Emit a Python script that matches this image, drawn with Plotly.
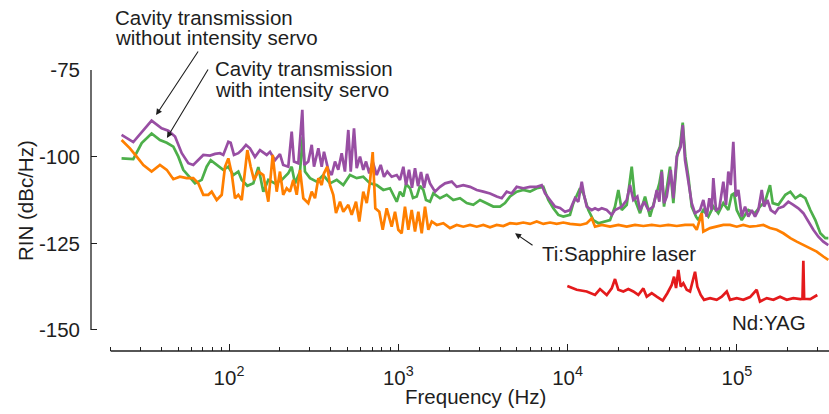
import math
import plotly.graph_objects as go

# ---- data (frequency in Hz, RIN in dBc/Hz) ----
no_servo = [
    (23.2, -93.7), (27.2, -95.8), (34.9, -89.6), (40.0, -91.8), (43.8, -92.5), (48.0, -94.2),
    (52.6, -99.0), (57.5, -101.9), (61.5, -102.4), (65.9, -101.0), (70.5, -99.5), (77.2, -99.7),
    (82.7, -99.2), (88.5, -99.0), (92.5, -99.5), (99.1, -95.7), (102.3, -96.0), (107, -99.5),
    (113.5, -99.0), (118.9, -98.1), (126, -96.6), (133, -97.6), (142.4, -100.1), (152.4, -98.1),
    (167, -99.5), (174.7, -98.6), (187, -101.0), (200, -99.3), (209, -102.4), (224, -102.9),
    (234.6, -92.8), (242, -101.4), (256.7, -101.9), (271, -86.5), (278.5, -102.4), (294, -101.4),
    (308, -96.6), (317.8, -102.9), (337, -97.6), (352.8, -102.9), (364, -98.6), (386, -103.8),
    (404, -105.3), (422.7, -101.4), (442, -103.8), (463, -99.0), (484, -104.3), (506.6, -92.3),
    (523.6, -104.3), (547.5, -91.8), (568, -103.3), (594, -100.0), (621, -103.8), (644.8, -101.4),
    (674, -104.8), (706, -101.4), (745.6, -105.3), (787, -102.4), (823, -105.8), (861, -104.3),
    (914, -105.8), (979, -105.3), (1023, -106.7), (1071, -102.9), (1111, -108.2), (1157, -103.8),
    (1205, -109.0), (1255, -103.3), (1308, -108.5), (1362, -104.4), (1419, -109.0), (1478, -105.0),
    (1539, -107.7), (1648, -110.1), (1764, -108.7), (1888, -107.7), (2068, -107.2), (2213, -108.7),
    (2421, -108.2), (2653, -108.7), (2906, -109.6), (3178, -110.1), (3482, -110.6), (3813, -111.5),
    (4082, -112.0), (4369, -110.1), (4677, -110.6), (5005, -108.7), (5474, -109.1), (5998, -108.7),
    (6570, -108.7), (7033, -108.2), (7356, -110.6), (7873, -112.5), (8428, -114.4), (9022, -114.8),
    (9654, -115.9), (10330, -115.4), (11060, -112.0), (11570, -113.0), (12120, -107.2), (12500, -111.0),
    (12970, -114.4), (13890, -115.4), (14520, -114.9), (15190, -115.4), (15910, -114.9), (17030, -115.4),
    (18220, -116.8), (19060, -115.4), (20880, -114.4), (22350, -112.5), (23370, -108.2), (24440, -112.5),
    (25810, -111.5), (26780, -115.4), (28280, -113.0), (29990, -115.4), (32090, -114.4), (33610, -109.6),
    (34830, -113.0), (35970, -104.3), (37120, -113.4), (38510, -111.5), (40660, -103.8), (42130, -112.0),
    (44120, -100.0), (46580, -97.1), (47860, -90.9), (49380, -101.0), (51660, -107.7), (54100, -113.4),
    (56580, -116.3), (60560, -115.4), (63340, -112.5), (66340, -117.3), (68730, -112.0), (71010, -115.4),
    (72580, -106.2), (75280, -115.4), (78730, -114.9), (83130, -107.2), (86250, -113.9), (89000, -104.3),
    (91950, -108.2), (95250, -95.7), (98420, -111.5), (102000, -109.6), (106800, -117.3), (111700, -114.4),
    (116800, -117.3), (122400, -115.4), (128000, -117.3), (133900, -115.4), (140200, -109.6), (144700, -114.4),
    (151300, -112.5), (158500, -115.4), (168000, -116.3), (175700, -114.9), (188100, -114.4), (201300, -113.0),
    (215400, -113.9), (230700, -114.9), (246900, -116.3), (264200, -118.7), (282800, -121.1), (302700, -123.1),
    (323900, -124.5), (346700, -125.5),
]

with_servo = [
    (23.2, -100.5), (27.2, -100.7), (30.5, -96.1), (34.9, -93.3), (39.1, -95.2), (42.9, -96.0),
    (46.9, -97.1), (50.2, -100.0), (53.7, -103.8), (58.8, -106.2), (63.0, -107.7), (69.0, -106.7),
    (73.8, -102.9), (78.0, -101.0), (84.6, -102.4), (92.5, -103.8), (99.1, -102.9), (106, -105.3),
    (113.5, -104.3), (118.9, -106.7), (128.3, -108.4), (139.2, -107.7), (149, -103.0), (159.5, -110.1),
    (170.7, -106.7), (187, -107.7), (204.8, -106.7), (224, -104.8), (234.6, -102.9), (245.4, -107.7),
    (262.7, -104.3), (272.4, -94.2), (281, -104.3), (301, -106.2), (329.6, -107.2), (360.6, -105.3),
    (395, -107.7), (432.8, -106.7), (473.4, -108.2), (518.4, -105.3), (568, -106.2), (621, -105.8),
    (680.7, -107.7), (745.6, -108.2), (815.6, -109.6), (893, -109.1), (979, -113.0), (1023, -110.1),
    (1071, -111.5), (1111, -107.9), (1173, -109.1), (1221, -111.9), (1285, -111.5), (1343, -108.4),
    (1405, -109.6), (1458, -112.5), (1539, -113.0), (1610, -110.6), (1764, -112.0), (1931, -111.0),
    (2113, -112.5), (2315, -112.0), (2536, -113.4), (2774, -113.9), (3038, -112.5), (3328, -113.4),
    (3641, -114.4), (3988, -114.4), (4269, -113.4), (4570, -111.5), (5005, -110.1), (5474, -109.6),
    (5998, -110.1), (6570, -109.1), (7189, -108.7), (7692, -112.5), (8236, -114.9), (8815, -116.8),
    (9434, -117.3), (10330, -116.8), (10810, -113.4), (11840, -109.1), (12380, -110.6), (13260, -115.4),
    (14190, -118.3), (15190, -119.2), (16630, -118.7), (17810, -118.3), (19060, -114.4), (19940, -109.6),
    (20880, -115.4), (22350, -113.9), (23920, -102.9), (25020, -112.5), (26780, -116.3), (28670, -111.5),
    (30680, -117.3), (32850, -112.5), (34830, -107.7), (35970, -103.8), (37120, -114.4), (40270, -102.9),
    (42130, -113.4), (44490, -99.0), (46130, -97.1), (47860, -90.2), (49590, -100.0), (51660, -105.8),
    (54100, -114.4), (57370, -117.3), (59190, -118.3), (63340, -115.4), (67790, -117.3), (72580, -114.4),
    (77680, -116.3), (83130, -113.4), (89000, -115.4), (93200, -111.0), (96160, -110.6), (99750, -115.4),
    (106800, -118.3), (116800, -115.4), (128000, -116.3), (136900, -114.4), (146600, -113.0), (156900, -108.2),
    (162800, -113.4), (175700, -113.9), (193300, -111.0), (206900, -110.1), (221400, -112.0), (236900, -111.0),
    (253600, -112.0), (271400, -115.4), (290600, -118.3), (311000, -122.1), (332900, -123.5), (346700, -123.5),
]

ti_sapphire = [
    (23.2, -95.2), (26.0, -97.6), (28.5, -100.0), (31.2, -102.4), (34.9, -104.3), (39.1, -102.4),
    (42.9, -103.8), (46.9, -106.5), (51.3, -105.8), (56.2, -106.2), (61.5, -106.2), (65.9, -107.7),
    (70.5, -111.0), (75.5, -111.0), (79.0, -110.1), (84.6, -112.5), (90.6, -111.0), (94.7, -102.9),
    (99.1, -100.5), (103.7, -104.8), (108.5, -112.0), (113.5, -111.0), (118.9, -112.5), (124.3, -102.9),
    (128.3, -98.1), (134.3, -102.9), (140.5, -106.7), (149, -104.3), (159.5, -105.3), (170.7, -113.0),
    (181.2, -99.5), (191.3, -110.1), (200, -104.3), (209, -111.0), (219.1, -109.1), (229.2, -110.1),
    (239.8, -106.7), (251.2, -111.0), (262.7, -103.8), (274.8, -112.0), (294, -113.4), (308, -110.1),
    (322.1, -112.0), (337, -106.2), (352.8, -108.2), (364, -104.8), (380.7, -102.9), (395, -108.2),
    (413, -111.0), (428.5, -116.3), (452.5, -113.0), (473.4, -115.9), (506.6, -113.9), (530.7, -116.8),
    (562.6, -113.0), (588.4, -118.7), (621, -110.1), (651, -113.4), (680.7, -107.2), (706, -98.7),
    (731.6, -114.9), (772.4, -115.9), (808.9, -121.1), (854, -114.9), (914, -120.2), (956.3, -115.9),
    (1000, -121.1), (1047, -122.1), (1095, -114.4), (1146, -121.1), (1200, -115.4), (1255, -121.6),
    (1313, -115.9), (1375, -122.1), (1438, -114.4), (1504, -121.1), (1576, -118.7), (1687, -119.7),
    (1845, -119.2), (2021, -120.6), (2213, -119.7), (2421, -120.2), (2653, -119.7), (2906, -120.2),
    (3178, -119.7), (3482, -120.4), (3813, -119.7), (4172, -120.0), (4570, -119.2), (5005, -119.4),
    (5474, -119.0), (5998, -119.4), (6570, -118.7), (7189, -119.4), (7873, -119.0), (8625, -119.4),
    (9434, -119.0), (10330, -119.4), (11840, -119.7), (12970, -119.2), (13890, -117.8), (14520, -120.2),
    (15910, -119.7), (17810, -120.2), (19940, -119.7), (22350, -120.2), (25020, -119.7), (28020, -120.0),
    (31400, -119.7), (35160, -120.0), (39340, -119.7), (44120, -120.0), (49380, -119.7), (55290, -119.7),
    (57900, -121.1), (61970, -116.3), (63340, -121.6), (69390, -120.6), (76000, -120.2), (83130, -119.7),
    (91070, -119.7), (99750, -120.2), (109100, -119.7), (119600, -120.2), (130900, -120.0), (143300, -119.7),
    (156900, -120.6), (171900, -121.1), (188100, -122.1), (206900, -123.5), (225700, -124.5), (246900, -125.5),
    (271400, -126.4), (296100, -127.4), (323900, -128.8), (346700, -129.8),
]

nd_yag = [
    (9963, -137.3), (11320, -138.4), (12970, -138.9), (14520, -139.9), (15540, -138.2), (17030, -139.9),
    (18220, -138.0), (19060, -135.3), (19940, -138.4), (21340, -138.9), (22840, -138.2), (24440, -138.9),
    (26170, -139.9), (28020, -138.0), (29340, -140.4), (31400, -139.4), (33610, -140.4), (36470, -141.5),
    (38820, -139.4), (41220, -137.0), (42530, -134.6), (43700, -137.9), (45100, -132.7), (46580, -137.5),
    (48260, -136.5), (50540, -138.4), (52860, -138.9), (56580, -133.2), (58390, -137.5), (61140, -139.9),
    (63940, -141.3), (69390, -140.8), (76000, -141.3), (81350, -140.4), (87100, -138.9), (91070, -141.3),
    (99750, -140.8), (109100, -141.3), (119600, -140.5), (130900, -138.4), (136900, -141.8), (150100, -140.8),
    (164200, -141.3), (179800, -140.4), (196900, -141.3), (215400, -140.8), (236900, -141.1), (244000, -141.0),
    (246900, -130.0), (249500, -141.0), (271400, -141.1), (298500, -139.9),
]

x_tick_vals = [1e2, 1e3, 1e4, 1e5]
x_tick_text = ["10<sup>2</sup>", "10<sup>3</sup>", "10<sup>4</sup>", "10<sup>5</sup>"]
y_tick_vals = [-150, -125, -100, -75]
y_tick_text = ["-150", "-125", "-100", "-75"]
x_minor = [m * 10 ** e for e in range(1, 6) for m in range(2, 10) if 20 <= m * 10 ** e <= 3e5]

FONT = "Liberation Sans, Arial, Helvetica, sans-serif"
INK = "#1e1e1e"
XMIN, XMAX = 1.1849, 5.544
YMIN, YMAX = -156.06, -75.0
X_AXIS_START = 20.0

series = [
    (with_servo, "#4daf4a", "Cavity transmission with intensity servo"),
    (no_servo, "#984ea3", "Cavity transmission without intensity servo"),
    (ti_sapphire, "#ff7f00", "Ti:Sapphire laser"),
    (nd_yag, "#e41a1c", "Nd:YAG"),
]

fig = go.Figure()
for data, color, name in series:
    f, r = zip(*data)
    fig.add_trace(go.Scatter(x=list(f), y=list(r), mode="lines", name=name,
                             line=dict(color=color, width=2.7), showlegend=False))

fig.update_layout(
    width=829, height=414,
    margin=dict(l=91, r=0, t=70, b=63),
    paper_bgcolor="white", plot_bgcolor="white",
    font=dict(family=FONT, size=20.5, color=INK),
    xaxis=dict(type="log", range=[XMIN, XMAX], tickvals=x_tick_vals, ticktext=x_tick_text,
               ticks="inside", ticklen=7, tickwidth=1.3, tickcolor=INK,
               showgrid=False, zeroline=False, showline=False,
               ticklabelstandoff=12,
               tickfont=dict(size=20.5, color=INK),
               minor=dict(tickvals=x_minor, ticks="inside", ticklen=4, tickwidth=1.3,
                          tickcolor=INK, showgrid=False)),
    yaxis=dict(range=[YMIN, YMAX], tickvals=y_tick_vals, ticktext=y_tick_text,
               ticks="inside", ticklen=6, tickwidth=1.3, tickcolor=INK,
               showgrid=False, zeroline=False, showline=False,
               ticklabelstandoff=10,
               tickfont=dict(size=20.5, color=INK)),
)

x0_paper = (math.log10(X_AXIS_START) - XMIN) / (XMAX - XMIN)
fig.add_shape(type="line", xref="paper", yref="y", x0=0, x1=0, y0=-150, y1=-75,
              line=dict(color=INK, width=1.3))
fig.add_shape(type="line", xref="paper", yref="paper", x0=x0_paper, x1=1, y0=0, y1=0,
              line=dict(color=INK, width=1.3))


def px(xp, yp):
    """pixel position in the page -> paper coords"""
    return (xp - 91) / 738.0, (351 - yp) / 281.0


def text(s, xp, yp, anchor="left", angle=0):
    xx, yy = px(xp, yp)
    fig.add_annotation(text=s, x=xx, y=yy, xref="paper", yref="paper", showarrow=False,
                       xanchor=anchor, yanchor="middle", textangle=angle,
                       font=dict(family=FONT, size=20.5, color=INK))


text("Cavity transmission", 113, 17)
text("without intensity servo", 113, 38)
text("Cavity transmission", 213, 68)
text("with intensity servo", 213, 89)
text("Ti:Sapphire laser", 540, 253)
text("Nd:YAG", 730, 322)
text("Frequency (Hz)", 475, 396, anchor="center")
text("RIN (dBc/Hz)", 25, 201, anchor="center", angle=-90)


def arrow(f, db, ax, ay):
    fig.add_annotation(x=math.log10(f), y=db, xref="x", yref="y", ax=ax, ay=ay,
                       axref="pixel", ayref="pixel", text="", showarrow=True,
                       arrowhead=2, arrowsize=1.1, arrowwidth=1.1, arrowcolor=INK)


arrow(37.1, -88.0, 43, -65)
arrow(43.0, -94.6, 42, -70)
arrow(4892, -122.1, 19, 13)

fig.write_html("out.html")
